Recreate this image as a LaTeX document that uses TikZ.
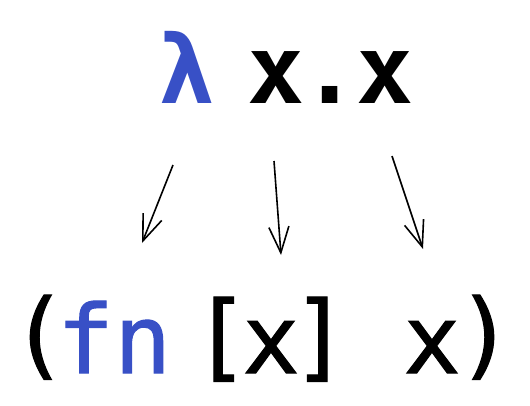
\documentclass[tikz,border=0pt]{standalone}
\usepackage{fontspec}
\setmonofont{DejaVu Sans Mono}
\newfontfamily\codefont[FakeBold=1.1]{DejaVu Sans Mono}
\usepackage{tikz}
\usetikzlibrary{arrows.meta}
\definecolor{lamblue}{RGB}{56,80,198}

\begin{document}
\begin{tikzpicture}[x=1pt,y=-1pt,
  big/.style={anchor=base,inner sep=0pt,font=\codefont\fontsize{95}{95}\selectfont},
  bigb/.style={anchor=base,inner sep=0pt,font=\ttfamily\bfseries\fontsize{95}{95}\selectfont},
  maps/.style={-{Straight Barb[length=26pt,width=20pt]},line width=1.6pt}]
\useasboundingbox (0,0) rectangle (530,405);

\node [bigb,lamblue] (lam) at (187,103) {λ};
\node [bigb] (xa) at (276,103) {x};
\node [bigb] (dot) at (330,103) {.};
\node [bigb] (xb) at (385,103) {x};

\node [big] (lp) at (39,367) {(};
\node [big,lamblue] (fn) at (114,373) {fn};
\node [big] (lb) at (221,369) {[};
\node [big] (xc) at (271,373) {x};
\node [big] (rb) at (320,369) {]};
\node [big] (xd) at (432,373) {x};
\node [big] (rp) at (485,367) {)};

\coordinate (a1) at (173,165);
\coordinate (b1) at (142,243);
\coordinate (a2) at (274,161);
\coordinate (b2) at (281,255);
\coordinate (a3) at (392,156);
\coordinate (b3) at (423,249);

\draw [maps] (a1) -- (b1);
\draw [maps] (a2) -- (b2);
\draw [maps] (a3) -- (b3);

\end{tikzpicture}
\end{document}
